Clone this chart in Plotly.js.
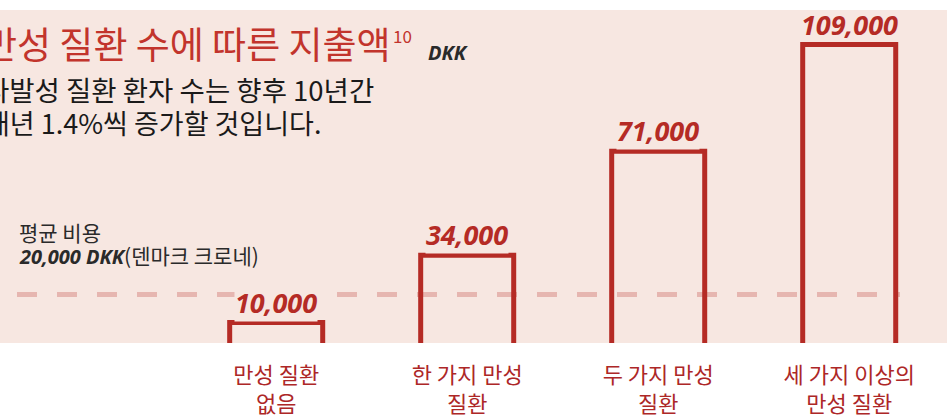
<!DOCTYPE html>
<html>
<head>
<meta charset="utf-8">
<script src="https://cdn.plot.ly/plotly-3.0.1.min.js"></script>
<style>
  html, body { margin: 0; padding: 0; background: #ffffff; }
  #chart { width: 947px; height: 415px; }
</style>
</head>
<body>
<div id="chart"></div>
<script>
// ---- data ----
const categories = ['만성 질환<br>없음', '한 가지 만성<br>질환', '두 가지 만성<br>질환', '세 가지 이상의<br>만성 질환'];
const costs = [10000, 34000, 71000, 109000];
const averageCost = 20000;
const titleText = '만성 질환 수에 따른 지출액';
const titleNote = '10';
const unitText = 'DKK';
const subtitleLines = ['다발성 질환 환자 수는 향후 10년간', '매년 1.4%씩 증가할 것입니다.'];
const avgLabel = '평균 비용';
const avgValueText = '20,000 DKK';
const avgUnitText = '(덴마크 크로네)';

// ---- styles ----
const RED = '#b52b25';
const LABEL_RED = '#ad2727';
const TITLE_RED = '#c2342c';
const PINK = '#f7e7e1';
const KR = '"Noto Sans CJK KR", "Noto Sans", sans-serif';
const NUM = '"Open Sans", "DejaVu Sans", sans-serif';

const fmt = v => v.toLocaleString('en-US');

const trace = {
  type: 'bar',
  x: categories,
  y: costs,
  width: 0.487,
  marker: { color: 'rgba(0,0,0,0)', line: { color: RED, width: 5 } },
  hoverinfo: 'skip',
  showlegend: false
};

const valueAnnotations = categories.map((c, i) => ({
  x: c, y: costs[i], xref: 'x', yref: 'y',
  text: '<b><i>' + fmt(costs[i]) + '</i></b>',
  showarrow: false, yanchor: 'bottom', yshift: 1,
  bgcolor: i < 3 ? PINK : 'rgba(0,0,0,0)', borderpad: 0,
  font: { family: NUM, size: 27, color: RED }
}));

const W = 947;
const textAnnotations = [
  { xref: 'paper', yref: 'paper', x: 0, xanchor: 'left', xshift: -19, y: 1.0, yanchor: 'middle', yshift: -33,
    text: titleText, showarrow: false,
    font: { family: KR, size: 37, color: TITLE_RED } },
  { xref: 'paper', yref: 'paper', x: 391 / W, xanchor: 'left', y: 1.0, yanchor: 'middle', yshift: -25,
    text: titleNote, showarrow: false,
    font: { family: KR, size: 17, color: TITLE_RED } },
  { xref: 'paper', yref: 'paper', x: 426 / W, xanchor: 'left', y: 1.0, yanchor: 'middle', yshift: -42,
    text: '<b><i>' + unitText + '</i></b>', showarrow: false,
    font: { family: NUM, size: 20, color: '#2a2a2a' } },
  { xref: 'paper', yref: 'paper', x: 0, xanchor: 'left', xshift: -18, y: 1.0, yanchor: 'middle', yshift: -79,
    text: subtitleLines[0], showarrow: false,
    font: { family: KR, size: 27.5, color: '#1a1a1a' } },
  { xref: 'paper', yref: 'paper', x: 0, xanchor: 'left', xshift: -17, y: 1.0, yanchor: 'middle', yshift: -112,
    text: subtitleLines[1], showarrow: false,
    font: { family: KR, size: 27, color: '#1a1a1a' } },
  { xref: 'paper', yref: 'paper', x: 17 / W, xanchor: 'left', y: 1.0, yanchor: 'middle', yshift: -222,
    text: avgLabel, showarrow: false,
    font: { family: KR, size: 21, color: '#2a2a2a' } },
  { xref: 'paper', yref: 'paper', x: 17 / W, xanchor: 'left', y: 1.0, yanchor: 'middle', yshift: -245,
    text: '<b><i>' + avgValueText + '</i></b>' + '<span style="font-family:Noto Sans CJK KR;font-size:21px">' + avgUnitText + '</span>', showarrow: false,
    font: { family: NUM, size: 20, color: '#2a2a2a' } }
];

const layout = {
  width: 947, height: 415,
  margin: { l: 0, r: 0, t: 10, b: 72, pad: 0 },
  paper_bgcolor: '#ffffff',
  plot_bgcolor: PINK,
  xaxis: {
    type: 'category',
    range: [-1.446, 3.512],
    showgrid: false, zeroline: false, showline: false,
    ticks: 'outside', ticklen: 13, tickcolor: 'rgba(0,0,0,0)',
    tickfont: { family: KR, size: 22, color: LABEL_RED },
    fixedrange: true
  },
  yaxis: {
    range: [2707, 121297],
    visible: false,
    showgrid: false, zeroline: false,
    fixedrange: true
  },
  shapes: [
    { type: 'line', xref: 'paper', yref: 'y', x0: 17 / W, x1: 900 / W, y0: averageCost, y1: averageCost,
      line: { color: '#e6b6b0', width: 5, dash: '20px,20px' }, layer: 'below' }
  ],
  annotations: valueAnnotations.concat(textAnnotations),
  showlegend: false
};

Plotly.newPlot('chart', [trace], layout, { displayModeBar: false, staticPlot: true });
</script>
</body>
</html>
